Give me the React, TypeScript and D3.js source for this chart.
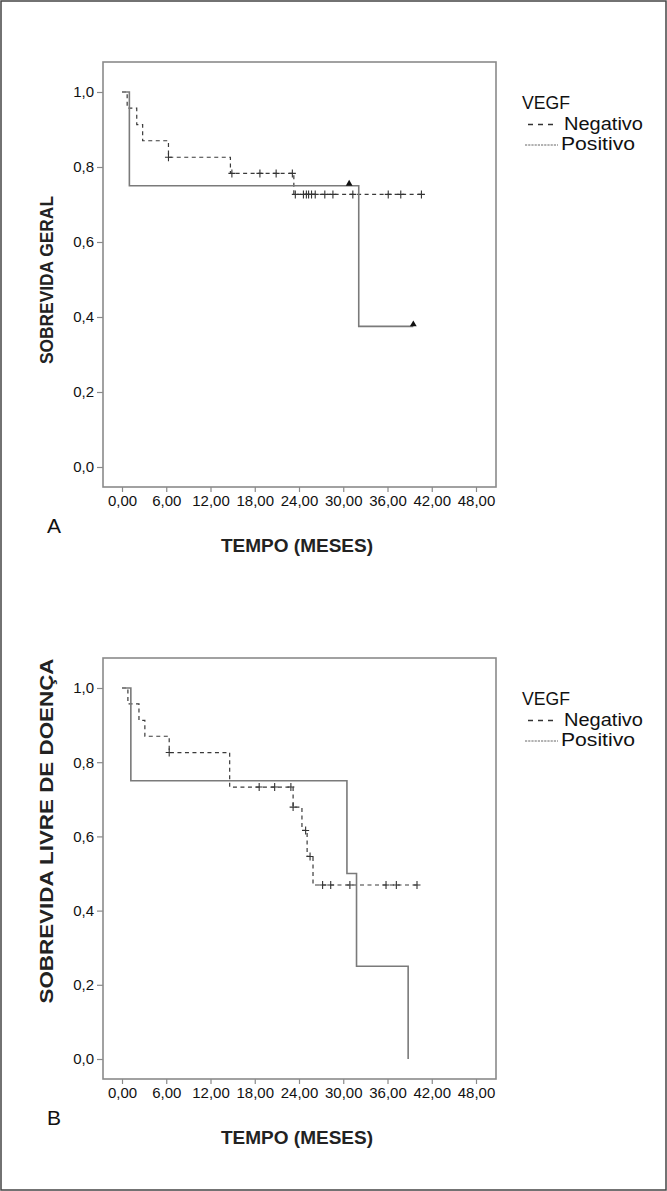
import React, { useEffect, useRef } from 'react';
import * as d3 from 'd3';

const W = 667;
const H = 1191;

// shared axis ticks
const xTicks = [0, 6, 12, 18, 24, 30, 36, 42, 48];
const yTicks = [0, 0.2, 0.4, 0.6, 0.8, 1.0];

// Panel A - sobrevida geral
const aNegTimes = [0.7, 2.0, 2.8, 6.3, 14.7, 23.3];
const aNegSurv = [0.957, 0.913, 0.870, 0.826, 0.783, 0.727];
const aNegCensored = [6.3, 14.9, 18.7, 20.9, 23.1, 23.5, 24.6, 25.0, 25.3, 25.7, 26.2, 27.5, 28.6, 31.3, 36.1, 37.8, 40.6];
const aPosTimes = [1.0, 32.1];
const aPosSurv = [0.75, 0.375];
const aPosCensored = [30.8, 39.5];

// Panel B - sobrevida livre de doenca
const bNegTimes = [0.8, 2.3, 3.1, 6.4, 14.6, 23.2, 24.4, 25.1, 25.9];
const bNegSurv = [0.957, 0.913, 0.870, 0.826, 0.733, 0.679, 0.616, 0.546, 0.469];
const bNegCensored = [6.4, 18.6, 20.7, 22.9, 23.2, 24.9, 25.5, 27.2, 28.3, 30.9, 35.8, 37.2, 40.0];
const bPosTimes = [1.2, 30.5, 31.8, 38.8];
const bPosSurv = [0.75, 0.5, 0.25, 0.0];
const bPosCensored: number[] = [];

const legendTitle = 'VEGF';
const legendItems = ['Negativo', 'Positivo'];

const ptLocale = d3.formatLocale({ decimal: ',', thousands: '.', grouping: [3], currency: ['', ''] });
const fmtX = ptLocale.format('.2f');
const fmtY = ptLocale.format('.1f');

const FONT = "Arial, 'Liberation Sans', Helvetica, sans-serif";

// survival value at time t (step function)
const survAt = (times, surv, t) => {
  let s = 1;
  times.forEach((tt, i) => { if (tt <= t) s = surv[i]; });
  return s;
};

const drawPanel = (svg, p) => {
  const g = svg.append('g');
  const x = d3.scaleLinear().domain([0, 48]).range([122, 476]);
  const y = d3.scaleLinear().domain([0, 1]).range([p.y0, p.y1]);
  const boxTop = p.y1 - 30;
  const boxBottom = p.y0 + 20;

  // plot frame
  g.append('rect')
    .attr('x', 103).attr('y', boxTop)
    .attr('width', 393).attr('height', boxBottom - boxTop)
    .attr('fill', 'none').attr('stroke', '#8a8a8a').attr('stroke-width', 1.6);

  // axes
  const xAxis = g.append('g')
    .attr('transform', `translate(0,${boxBottom})`)
    .call(d3.axisBottom(x).tickValues(xTicks).tickSize(5).tickFormat(d => fmtX(d)));
  const yAxis = g.append('g')
    .attr('transform', 'translate(103,0)')
    .call(d3.axisLeft(y).tickValues(yTicks).tickSize(6).tickFormat(d => fmtY(d)));
  [xAxis, yAxis].forEach(a => {
    a.select('.domain').remove();
    a.selectAll('line').attr('stroke', '#8a8a8a').attr('stroke-width', 1.2);
    a.selectAll('text').attr('font-family', FONT).attr('font-size', 15).attr('fill', '#111');
  });

  const line = d3.line().curve(d3.curveStepAfter).x(d => x(d[0])).y(d => y(d[1]));

  // Negativo (dashed)
  const negLast = d3.max(p.negCensored);
  const negPts = [[0, 1], ...p.negTimes.map((t, i) => [t, p.negSurv[i]]), [negLast, p.negSurv[p.negSurv.length - 1]]];
  g.append('path')
    .attr('d', line(negPts))
    .attr('fill', 'none').attr('stroke', '#3a3a3a').attr('stroke-width', 1.2)
    .attr('stroke-dasharray', '4,3.5');

  // Positivo (solid)
  const posLast = Math.max(d3.max(p.posCensored) || 0, d3.max(p.posTimes));
  const posPts = [[0, 1], ...p.posTimes.map((t, i) => [t, p.posSurv[i]]), [posLast, p.posSurv[p.posSurv.length - 1]]];
  g.append('path')
    .attr('d', line(posPts))
    .attr('fill', 'none').attr('stroke', '#7a7a7a').attr('stroke-width', 1.6);

  // censored marks, negativo: plus signs
  g.append('g').selectAll('path')
    .data(p.negCensored)
    .enter().append('path')
    .attr('d', t => {
      const cx = x(t);
      const cy = y(survAt(p.negTimes, p.negSurv, t));
      return `M${cx - 3.5},${cy}h7M${cx},${cy - 4}v8`;
    })
    .attr('stroke', '#333').attr('stroke-width', 1.1).attr('fill', 'none');

  // censored marks, positivo: triangles
  g.append('g').selectAll('path')
    .data(p.posCensored)
    .enter().append('path')
    .attr('d', d3.symbol(d3.symbolTriangle, 20))
    .attr('transform', t => `translate(${x(t)},${y(survAt(p.posTimes, p.posSurv, t)) - 2})`)
    .attr('fill', '#111');

  // axis titles
  g.append('text')
    .attr('x', 297).attr('y', boxBottom + 65)
    .attr('text-anchor', 'middle')
    .attr('font-family', FONT).attr('font-weight', 'bold').attr('font-size', 18)
    .attr('textLength', 152).attr('lengthAdjust', 'spacingAndGlyphs')
    .attr('fill', '#222')
    .text('TEMPO (MESES)');

  g.append('text')
    .attr('transform', `translate(53,${p.yTitleY}) rotate(-90)`)
    .attr('text-anchor', 'middle')
    .attr('font-family', FONT).attr('font-weight', 'bold').attr('font-size', p.yTitleSize)
    .attr('textLength', p.yTitleLen).attr('lengthAdjust', 'spacingAndGlyphs')
    .attr('fill', '#222')
    .text(p.yTitle);

  // panel letter
  g.append('text')
    .attr('x', 47).attr('y', boxBottom + 46)
    .attr('font-family', FONT).attr('font-size', 21).attr('fill', '#111')
    .text(p.letter);

  // legend
  const lg = g.append('g').attr('font-family', FONT).attr('fill', '#111');
  lg.append('text').attr('x', 522).attr('y', p.legendY)
    .attr('font-size', 17.5).attr('textLength', 48).attr('lengthAdjust', 'spacingAndGlyphs')
    .text(legendTitle);
  legendItems.forEach((name, i) => {
    const ly = p.legendY + 20.5 * (i + 1);
    lg.append('line')
      .attr('x1', i === 0 ? 528 : 525).attr('x2', 558)
      .attr('y1', ly - 5).attr('y2', ly - 5)
      .attr('stroke', i === 0 ? '#333' : '#666')
      .attr('stroke-width', i === 0 ? 1.3 : 1)
      .attr('stroke-dasharray', i === 0 ? '5,5' : '2.2,1');
    lg.append('text').attr('x', i === 0 ? 564 : 561).attr('y', ly)
      .attr('font-size', 17.5)
      .attr('textLength', i === 0 ? 79 : 74).attr('lengthAdjust', 'spacingAndGlyphs')
      .text(name);
  });
};

const panels = [
  {
    letter: 'A', y0: 467, y1: 92, legendY: 109,
    yTitle: 'SOBREVIDA GERAL', yTitleY: 280, yTitleSize: 17.5, yTitleLen: 168,
    negTimes: aNegTimes, negSurv: aNegSurv, negCensored: aNegCensored,
    posTimes: aPosTimes, posSurv: aPosSurv, posCensored: aPosCensored,
  },
  {
    letter: 'B', y0: 1059, y1: 688, legendY: 705,
    yTitle: 'SOBREVIDA LIVRE DE DOENÇA', yTitleY: 831, yTitleSize: 18, yTitleLen: 345,
    negTimes: bNegTimes, negSurv: bNegSurv, negCensored: bNegCensored,
    posTimes: bPosTimes, posSurv: bPosSurv, posCensored: bPosCensored,
  },
];

const App = () => {
  const svgRef = useRef(null);

  useEffect(() => {
    const svg = d3.select(svgRef.current);
    svg.selectAll('*').remove();

    svg.append('rect').attr('width', W).attr('height', H).attr('fill', '#fff');
    // outer frame
    svg.append('rect')
      .attr('x', 1).attr('y', 1).attr('width', W - 2).attr('height', H - 2)
      .attr('fill', 'none').attr('stroke', '#444').attr('stroke-width', 1.5);

    panels.forEach(p => drawPanel(svg, p));
  }, []);

  return (
    <svg ref={svgRef} width={W} height={H}
      style={{ position: 'absolute', left: 0, top: 0, display: 'block' }} />
  );
};

export default App;
